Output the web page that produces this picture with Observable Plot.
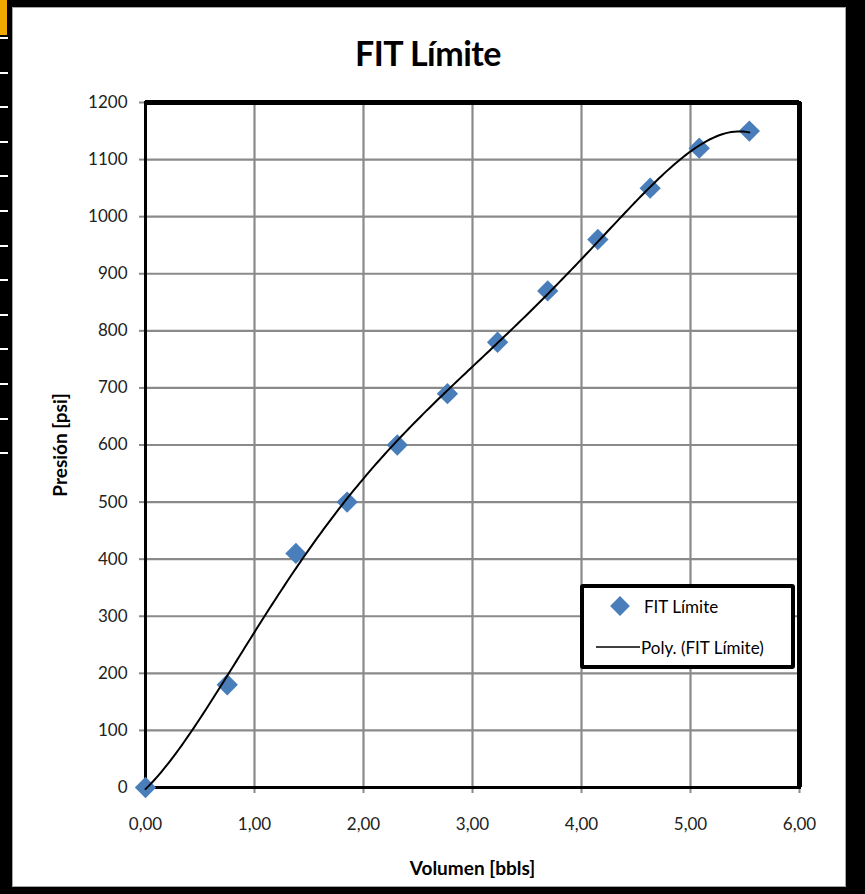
<!DOCTYPE html>
<html>
<head>
<meta charset="utf-8">
<script src="https://cdn.jsdelivr.net/npm/d3@7"></script>
<script src="https://cdn.jsdelivr.net/npm/@observablehq/plot@0.6"></script>
<style>
  html, body { margin: 0; padding: 0; background: #000; }
  #wrap { position: relative; width: 865px; height: 894px; background: #000; overflow: hidden; }
  #panel { position: absolute; left: 12px; top: 7px; width: 834px; height: 880px; background: #fff; border: 1.5px solid #a6a6a6; box-sizing: border-box; }
  #title { position: absolute; left: 0; width: 856px; top: 32px; text-align: center; font: bold 34px Lato, "Noto Sans", sans-serif; color: #000; letter-spacing: -0.5px; }
  #chart { position: absolute; left: 0; top: 0; }
  #legend { position: absolute; left: 580px; top: 584px; width: 215px; height: 85px; box-sizing: border-box; border: 4px solid #000; border-radius: 3px; background: #fff; font: 17px Lato, "Noto Sans", sans-serif; color: #000; }
  #legend .row { position: absolute; left: 0; height: 20px; display: flex; align-items: center; }
  .strip { position: absolute; left: 0; width: 8px; height: 2px; background: #fff; }
</style>
</head>
<body>
<div id="wrap">
  <div id="panel"></div>
  <div id="chart"></div>
  <div id="title">FIT Límite</div>
  <div id="legend">
    <div class="row" style="top:8px;left:24px;"><svg width="24" height="24"><rect x="5" y="5" width="14" height="14" fill="#4a7ebb" transform="rotate(45 12 12)"/></svg><span style="margin-left:12px">FIT Límite</span></div>
    <div class="row" style="top:49px;left:12px;"><svg width="44" height="4"><line x1="0" y1="2" x2="44" y2="2" stroke="#000" stroke-width="1.6"/></svg><span style="margin-left:1px">Poly. (FIT Límite)</span></div>
  </div>
</div>
<script>
// Data
const volumen = [0.00, 0.75, 1.38, 1.85, 2.31, 2.77, 3.23, 3.69, 4.15, 4.63, 5.08, 5.54];
const presion = [0, 180, 410, 500, 600, 690, 780, 870, 960, 1050, 1120, 1150];
const xTicks = [0, 1, 2, 3, 4, 5, 6];
const yTicks = [0, 100, 200, 300, 400, 500, 600, 700, 800, 900, 1000, 1100, 1200];
const polyDegree = 5;

const points = volumen.map((v, i) => ({v, p: presion[i]}));

// Least-squares polynomial trendline (Excel "Poly." trendline) computed from the data
function polyfit(xs, ys, deg) {
  const n = deg + 1;
  const A = Array.from({length: n}, () => new Array(n + 1).fill(0));
  for (let k = 0; k < xs.length; k++) {
    const pw = [1];
    for (let j = 1; j <= 2 * deg; j++) pw.push(pw[j - 1] * xs[k]);
    for (let r = 0; r < n; r++) {
      for (let c = 0; c < n; c++) A[r][c] += pw[r + c];
      A[r][n] += pw[r] * ys[k];
    }
  }
  for (let i = 0; i < n; i++) {
    let m = i;
    for (let r = i + 1; r < n; r++) if (Math.abs(A[r][i]) > Math.abs(A[m][i])) m = r;
    [A[i], A[m]] = [A[m], A[i]];
    for (let r = 0; r < n; r++) {
      if (r === i) continue;
      const f = A[r][i] / A[i][i];
      for (let c = i; c <= n; c++) A[r][c] -= f * A[i][c];
    }
  }
  return A.map((row, i) => row[n] / row[i]);
}
function trend(deg) {
  const co = polyfit(volumen, presion, deg);
  const x0 = d3.min(volumen), x1 = d3.max(volumen);
  return d3.range(0, 201).map(i => {
    const v = x0 + (x1 - x0) * i / 200;
    return {v, p: co.reduce((s, c, j) => s + c * Math.pow(v, j), 0)};
  });
}

const fmtX = d => d.toFixed(2).replace(".", ",");
const font = "Lato, 'Noto Sans', sans-serif";

const chart = Plot.plot({
  width: 865,
  height: 894,
  marginLeft: 145,
  marginRight: 66,
  marginTop: 102,
  marginBottom: 107,
  style: {background: "transparent", fontFamily: font, fontSize: "17px", color: "#000", overflow: "visible"},
  x: {domain: [0, 6], ticks: xTicks, label: null},
  y: {domain: [0, 1200], ticks: yTicks, label: null},
  marks: [
    Plot.gridX(xTicks, {stroke: "#8a8a8a", strokeOpacity: 1, strokeWidth: 2.2}),
    Plot.gridY(yTicks, {stroke: "#8a8a8a", strokeOpacity: 1, strokeWidth: 2.2}),
    Plot.axisX(xTicks, {tickSize: 6, tickPadding: 24, stroke: "#8a8a8a", strokeWidth: 2, tickFormat: fmtX, fontSize: 17, fill: "#222"}),
    Plot.axisY(yTicks, {tickSize: 6, tickPadding: 12, stroke: "#8a8a8a", strokeWidth: 2, tickFormat: d => String(d), fontSize: 17, fill: "#222"}),
    Plot.frame({stroke: "#000", strokeWidth: 3}),
    Plot.ruleY([1200], {stroke: "#000", strokeWidth: 5}),
    Plot.ruleX([6], {stroke: "#000", strokeWidth: 5}),
    Plot.dot(points, {x: "v", y: "p", symbol: "square", rotate: 45, r: 8.5, fill: "#4a7ebb", stroke: "none"}),
    Plot.line(trend(polyDegree), {x: "v", y: "p", stroke: "#000", strokeWidth: 2}),
    Plot.text(["Volumen [bbls]"], {frameAnchor: "bottom", dy: 87, fontWeight: "bold", fontSize: 19, fill: "#000"}),
    Plot.text(["Presión [psi]"], {frameAnchor: "left", textAnchor: "middle", dx: -85, rotate: -90, fontWeight: "bold", fontSize: 19, fill: "#000"})
  ]
});
document.getElementById("chart").appendChild(chart);

// left spreadsheet strip decoration
const wrap = document.getElementById("wrap");
const orange = document.createElement("div");
orange.style.cssText = "position:absolute;left:0;top:0;width:7px;height:35px;background:#f0a800;";
wrap.appendChild(orange);
for (let y = 37; y < 455; y += 34.6) {
  const s = document.createElement("div");
  s.className = "strip";
  s.style.top = Math.round(y) + "px";
  wrap.appendChild(s);
}
</script>
</body>
</html>
